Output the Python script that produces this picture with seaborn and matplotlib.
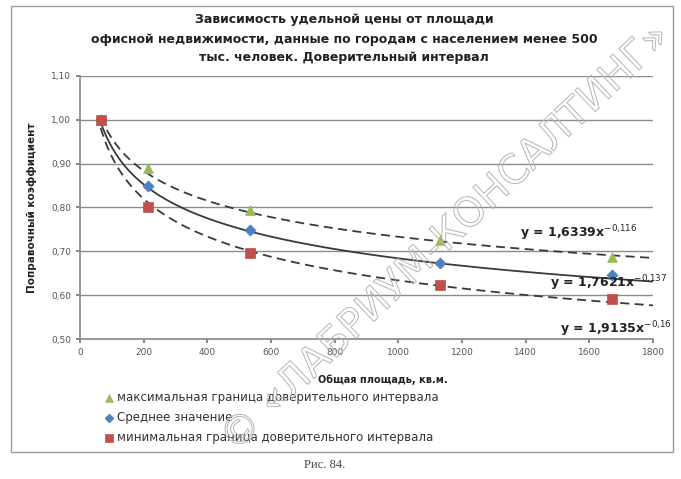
import numpy as np
import pandas as pd
import matplotlib
matplotlib.use("Agg")
import matplotlib.pyplot as plt
import matplotlib.patheffects as pe
from matplotlib.patches import Rectangle
from matplotlib.ticker import FuncFormatter, MultipleLocator
import seaborn as sns

# Observed points: area (sq. m) vs correction coefficient
area = [65, 215, 535, 1130, 1670]
upper_vals = [1.00, 0.89, 0.795, 0.725, 0.687]
mean_vals = [1.00, 0.848, 0.748, 0.673, 0.647]
lower_vals = [1.00, 0.80, 0.697, 0.623, 0.591]

series_names = [
    "максимальная граница доверительного интервала",
    "Среднее значение",
    "минимальная граница доверительного интервала",
]

# Power trend lines y = a * x^b
trend_a = [1.6339, 1.7621, 1.9135]
trend_b = [-0.116, -0.137, -0.16]

title_text = ("Зависимость удельной цены от площади\n"
              "офисной недвижимости, данные по городам с населением менее 500\n"
              "тыс. человек. Доверительный интервал")
x_label = "Общая площадь, кв.м."
y_label = "Поправочный коэффициент"
caption = "Рис. 84."
watermark = "© «ЛАБРИУМ-КОНСАЛТИНГ»"

sns.set_theme(style="white")
plt.rcParams["font.family"] = ["DejaVu Sans"]

df = pd.DataFrame({
    "area": area * 3,
    "coef": upper_vals + mean_vals + lower_vals,
    "series": [series_names[0]] * 5 + [series_names[1]] * 5 + [series_names[2]] * 5,
})

fig = plt.figure(figsize=(6.81, 4.79), dpi=100)
fig.patch.set_facecolor("white")
ax = fig.add_axes([80 / 681, 1 - 339 / 479, (653 - 80) / 681, (339 - 76) / 479])

# Trend curves
xs = np.linspace(area[0], 1800, 300)
styles = [(0, (5, 3)), "-", (0, (5, 3))]
for a, b, ls in zip(trend_a, trend_b, styles):
    ax.plot(xs, a * xs ** b, color="#3a3a3a", lw=1.3, ls=ls, zorder=2)

palette = {series_names[0]: "#9BBB59", series_names[1]: "#4F81BD", series_names[2]: "#C0504D"}
markers = {series_names[0]: "^", series_names[1]: "D", series_names[2]: "s"}
sizes = {series_names[0]: 50, series_names[1]: 32, series_names[2]: 55}
for name in series_names:
    sub = df[df["series"] == name]
    sns.scatterplot(data=sub, x="area", y="coef", color=palette[name], marker=markers[name],
                    s=sizes[name], edgecolor=palette[name], linewidth=0.5, ax=ax,
                    label=name, zorder=3)

ax.set_xlim(0, 1800)
ax.set_ylim(0.5, 1.1)
ax.xaxis.set_major_locator(MultipleLocator(200))
ax.yaxis.set_major_locator(MultipleLocator(0.1))
ax.yaxis.set_major_formatter(FuncFormatter(lambda v, p: f"{v:.2f}".replace(".", ",")))
ax.grid(axis="y", color="#8c8c8c", lw=1.0)
ax.set_axisbelow(True)
for s in ["top", "right"]:
    ax.spines[s].set_visible(False)
ax.spines["left"].set_color("#8c8c8c")
ax.spines["bottom"].set_color("#8c8c8c")
ax.tick_params(axis="both", labelsize=6.5, colors="#777777", length=3, direction="out",
               left=True, bottom=True)
ax.tick_params(axis="both", labelcolor="#555555")
ax.set_xlabel(x_label, fontsize=7, fontweight="bold", color="#222222")
ax.xaxis.set_label_coords(0.528, -0.135)
ax.set_ylabel(y_label, fontsize=7.5, fontweight="bold", color="#222222", labelpad=10)

# Equation labels
eq_pos = [(1382, 0.731), (1478, 0.619), (1508, 0.512)]
for (ex, ey), a, b in zip(eq_pos, trend_a, trend_b):
    a_s = f"{a:.4f}".replace(".", ",")
    b_s = f"{b:g}".replace(".", "{,}")
    ax.text(ex, ey, f"y = {a_s}x" + r"$^{" + b_s + r"}$",
            fontsize=9, fontweight="bold", color="#222222", zorder=5, clip_on=False,
            va="baseline")

ax.legend(loc="upper left", bbox_to_anchor=(100 / 681, 1 - 386 / 479),
          bbox_transform=fig.transFigure, frameon=False, fontsize=8.5,
          handletextpad=0.2, labelspacing=0.6, handlelength=0.8, borderaxespad=0,
          markerscale=0.8, labelcolor="#333333")

fig.text(344 / 681, 1 - 39 / 479, title_text, ha="center", va="center", fontsize=9,
         fontweight="bold", color="#222222", linespacing=1.6)

fig.text(325 / 681, 1 - 465 / 479, caption, ha="center", va="center", fontsize=9,
         family="Liberation Serif", color="#444444")

# Chart border
fig.patches.append(Rectangle((11 / 681, 1 - 452 / 479), (673 - 11) / 681, (452 - 6) / 479,
                             transform=fig.transFigure, fill=False, ec="#9a9a9a", lw=1.0))

# Watermark
fig.text(446 / 681, 1 - 238 / 479, watermark, ha="center", va="center", fontsize=29,
         rotation=43.5, color="none", zorder=10,
         path_effects=[pe.Stroke(linewidth=0.7, foreground="#b4b4b4"), pe.Normal()])

fig.savefig("out.png", dpi=100, facecolor="white")
